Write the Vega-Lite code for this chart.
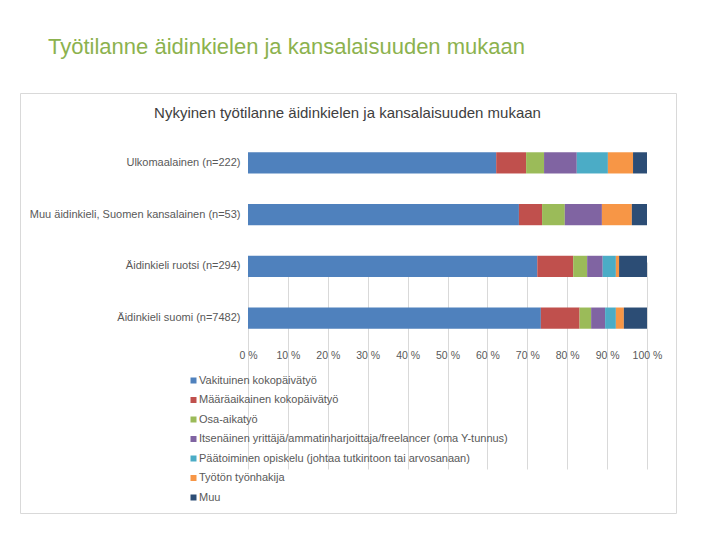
{
  "$schema": "https://vega.github.io/schema/vega-lite/v6.json",
  "width": 656,
  "height": 420,
  "autosize": {"type": "none"},
  "padding": {"left": 20, "top": 93, "right": 44, "bottom": 27},
  "background": "#ffffff",
  "title": {
    "text": "Työtilanne äidinkielen ja kansalaisuuden mukaan",
    "anchor": "start",
    "frame": "group",
    "dx": 28,
    "offset": 34,
    "font": "Liberation Sans",
    "fontSize": 22,
    "fontWeight": "normal",
    "color": "#8cb24e"
  },
  "config": {
    "font": "Liberation Sans",
    "view": {"stroke": "#d9d9d9", "fill": "#ffffff"}
  },
  "data": {
    "values": [
      {"ryhma": "Ulkomaalainen (n=222)", "tila": "Vakituinen kokopäivätyö", "jarjestys": 1, "osuus": 62.2},
      {"ryhma": "Ulkomaalainen (n=222)", "tila": "Määräaikainen kokopäivätyö", "jarjestys": 2, "osuus": 7.5},
      {"ryhma": "Ulkomaalainen (n=222)", "tila": "Osa-aikatyö", "jarjestys": 3, "osuus": 4.5},
      {"ryhma": "Ulkomaalainen (n=222)", "tila": "Itsenäinen yrittäjä/ammatinharjoittaja/freelancer (oma Y-tunnus)", "jarjestys": 4, "osuus": 8.2},
      {"ryhma": "Ulkomaalainen (n=222)", "tila": "Päätoiminen opiskelu (johtaa tutkintoon tai arvosanaan)", "jarjestys": 5, "osuus": 7.8},
      {"ryhma": "Ulkomaalainen (n=222)", "tila": "Työtön työnhakija", "jarjestys": 6, "osuus": 6.3},
      {"ryhma": "Ulkomaalainen (n=222)", "tila": "Muu", "jarjestys": 7, "osuus": 3.5},
      {"ryhma": "Muu äidinkieli, Suomen kansalainen (n=53)", "tila": "Vakituinen kokopäivätyö", "jarjestys": 1, "osuus": 67.9},
      {"ryhma": "Muu äidinkieli, Suomen kansalainen (n=53)", "tila": "Määräaikainen kokopäivätyö", "jarjestys": 2, "osuus": 5.8},
      {"ryhma": "Muu äidinkieli, Suomen kansalainen (n=53)", "tila": "Osa-aikatyö", "jarjestys": 3, "osuus": 5.7},
      {"ryhma": "Muu äidinkieli, Suomen kansalainen (n=53)", "tila": "Itsenäinen yrittäjä/ammatinharjoittaja/freelancer (oma Y-tunnus)", "jarjestys": 4, "osuus": 9.3},
      {"ryhma": "Muu äidinkieli, Suomen kansalainen (n=53)", "tila": "Työtön työnhakija", "jarjestys": 6, "osuus": 7.5},
      {"ryhma": "Muu äidinkieli, Suomen kansalainen (n=53)", "tila": "Muu", "jarjestys": 7, "osuus": 3.8},
      {"ryhma": "Äidinkieli ruotsi (n=294)", "tila": "Vakituinen kokopäivätyö", "jarjestys": 1, "osuus": 72.5},
      {"ryhma": "Äidinkieli ruotsi (n=294)", "tila": "Määräaikainen kokopäivätyö", "jarjestys": 2, "osuus": 9.0},
      {"ryhma": "Äidinkieli ruotsi (n=294)", "tila": "Osa-aikatyö", "jarjestys": 3, "osuus": 3.5},
      {"ryhma": "Äidinkieli ruotsi (n=294)", "tila": "Itsenäinen yrittäjä/ammatinharjoittaja/freelancer (oma Y-tunnus)", "jarjestys": 4, "osuus": 3.9},
      {"ryhma": "Äidinkieli ruotsi (n=294)", "tila": "Päätoiminen opiskelu (johtaa tutkintoon tai arvosanaan)", "jarjestys": 5, "osuus": 3.3},
      {"ryhma": "Äidinkieli ruotsi (n=294)", "tila": "Työtön työnhakija", "jarjestys": 6, "osuus": 0.8},
      {"ryhma": "Äidinkieli ruotsi (n=294)", "tila": "Muu", "jarjestys": 7, "osuus": 7.0},
      {"ryhma": "Äidinkieli suomi (n=7482)", "tila": "Vakituinen kokopäivätyö", "jarjestys": 1, "osuus": 73.4},
      {"ryhma": "Äidinkieli suomi (n=7482)", "tila": "Määräaikainen kokopäivätyö", "jarjestys": 2, "osuus": 9.7},
      {"ryhma": "Äidinkieli suomi (n=7482)", "tila": "Osa-aikatyö", "jarjestys": 3, "osuus": 2.9},
      {"ryhma": "Äidinkieli suomi (n=7482)", "tila": "Itsenäinen yrittäjä/ammatinharjoittaja/freelancer (oma Y-tunnus)", "jarjestys": 4, "osuus": 3.5},
      {"ryhma": "Äidinkieli suomi (n=7482)", "tila": "Päätoiminen opiskelu (johtaa tutkintoon tai arvosanaan)", "jarjestys": 5, "osuus": 2.7},
      {"ryhma": "Äidinkieli suomi (n=7482)", "tila": "Työtön työnhakija", "jarjestys": 6, "osuus": 2.0},
      {"ryhma": "Äidinkieli suomi (n=7482)", "tila": "Muu", "jarjestys": 7, "osuus": 5.8}
    ]
  },
  "mark": {"type": "bar"},
  "encoding": {
    "y": {
      "field": "ryhma",
      "type": "nominal",
      "sort": [
        "Ulkomaalainen (n=222)",
        "Muu äidinkieli, Suomen kansalainen (n=53)",
        "Äidinkieli ruotsi (n=294)",
        "Äidinkieli suomi (n=7482)"
      ],
      "scale": {"range": [44, 251], "paddingInner": 0.59, "paddingOuter": 0.295},
      "axis": {
        "orient": "left",
        "offset": -228,
        "domain": false,
        "ticks": false,
        "grid": false,
        "labelPadding": 8,
        "labelFontSize": 11,
        "labelColor": "#595959",
        "labelLimit": 300,
        "title": "Nykyinen työtilanne äidinkielen ja kansalaisuuden mukaan",
        "titleAngle": 0,
        "titleAlign": "center",
        "titleBaseline": "middle",
        "titleX": 99,
        "titleY": 19,
        "titleFontSize": 15,
        "titleFontWeight": "normal",
        "titleColor": "#404040"
      }
    },
    "x": {
      "field": "osuus",
      "type": "quantitative",
      "stack": "zero",
      "scale": {"domain": [0, 100], "range": [228, 627], "nice": false},
      "axis": {
        "orient": "bottom",
        "offset": -169,
        "values": [0, 10, 20, 30, 40, 50, 60, 70, 80, 90, 100],
        "labelExpr": "datum.value + ' %'",
        "labelOverlap": false,
        "labelFlush": false,
        "labelBound": false,
        "domain": false,
        "ticks": false,
        "grid": true,
        "gridColor": "#d9d9d9",
        "labelPadding": 6,
        "labelFontSize": 10.5,
        "labelColor": "#595959",
        "title": null
      }
    },
    "color": {
      "field": "tila",
      "type": "nominal",
      "scale": {
        "domain": [
          "Vakituinen kokopäivätyö",
          "Määräaikainen kokopäivätyö",
          "Osa-aikatyö",
          "Itsenäinen yrittäjä/ammatinharjoittaja/freelancer (oma Y-tunnus)",
          "Päätoiminen opiskelu (johtaa tutkintoon tai arvosanaan)",
          "Työtön työnhakija",
          "Muu"
        ],
        "range": ["#4f81bd", "#c0504d", "#9bbb59", "#8064a2", "#4bacc6", "#f79646", "#2c4d75"]
      },
      "legend": {
        "orient": "none",
        "legendX": 168,
        "legendY": 282,
        "title": null,
        "symbolType": "square",
        "symbolSize": 36,
        "symbolStrokeWidth": 0,
        "labelFontSize": 11,
        "labelColor": "#595959",
        "labelLimit": 400,
        "labelOffset": 0,
        "rowPadding": 7.5
      }
    },
    "order": {"field": "jarjestys"}
  }
}
